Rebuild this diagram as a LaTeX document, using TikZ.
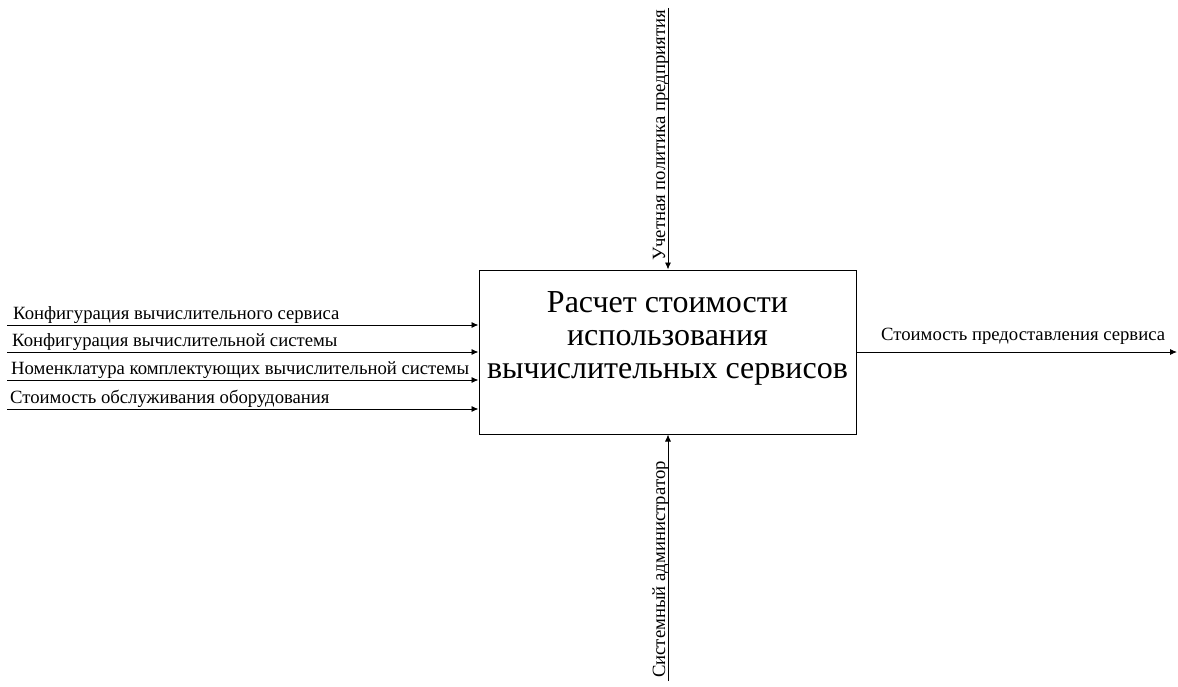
\documentclass[tikz,border=0pt]{standalone}
\usepackage{fontspec}
\setmainfont{Liberation Serif}
\usetikzlibrary{arrows.meta}
\begin{document}
\begin{tikzpicture}[x=1pt,y=-1pt,
  arr/.style={line width=0.9pt,-{Latex[length=7pt,width=6pt]}},
  lbl/.style={font=\fontsize{18.7}{21}\selectfont,inner sep=0pt},
  ttl/.style={font=\fontsize{32}{34}\selectfont,inner sep=0pt,anchor=base},
  func/.style={draw,line width=1pt,minimum width=377pt,minimum height=164pt,inner sep=0pt}]
\useasboundingbox (0,0) rectangle (1178,687);
\node[func] (box) at (667.5,352) {};
\node[ttl] (t1) at (667.5,312) {Расчет стоимости};
\node[ttl] (t2) at (667.5,345) {использования};
\node[ttl] (t3) at (667.5,378) {вычислительных сервисов};
% inputs
\coordinate (i1) at (7,325);
\coordinate (i2) at (7,352);
\coordinate (i3) at (7,380);
\coordinate (i4) at (7,409);
\draw[arr] (i1) -- (i1 -| box.west);
\draw[arr] (i2) -- (i2 -| box.west);
\draw[arr] (i3) -- (i3 -| box.west);
\draw[arr] (i4) -- (i4 -| box.west);
\node[lbl,anchor=base west] (l1) at (13,319) {Конфигурация вычислительного сервиса};
\node[lbl,anchor=base west] (l2) at (12,346) {Конфигурация вычислительной системы};
\node[lbl,anchor=base west] (l3) at (11,374) {Номенклатура комплектующих вычислительной системы};
\node[lbl,anchor=base west] (l4) at (10,403) {Стоимость обслуживания оборудования};
% output
\coordinate (o1) at (1177,352);
\draw[arr] (box.east |- o1) -- (o1);
\node[lbl,anchor=base west] (lo) at (881,340) {Стоимость предоставления сервиса};
% control
\coordinate (c1) at (668,8);
\draw[arr] (c1) -- (c1 |- box.north);
\node[lbl,anchor=base west,rotate=90] (lc) at (665,261) {Учетная политика предприятия};
% mechanism
\coordinate (m1) at (668,681);
\draw[arr] (m1) -- (m1 |- box.south);
\node[lbl,anchor=base west,rotate=90] (lm) at (665,678) {Системный администратор};
\end{tikzpicture}
\end{document}
